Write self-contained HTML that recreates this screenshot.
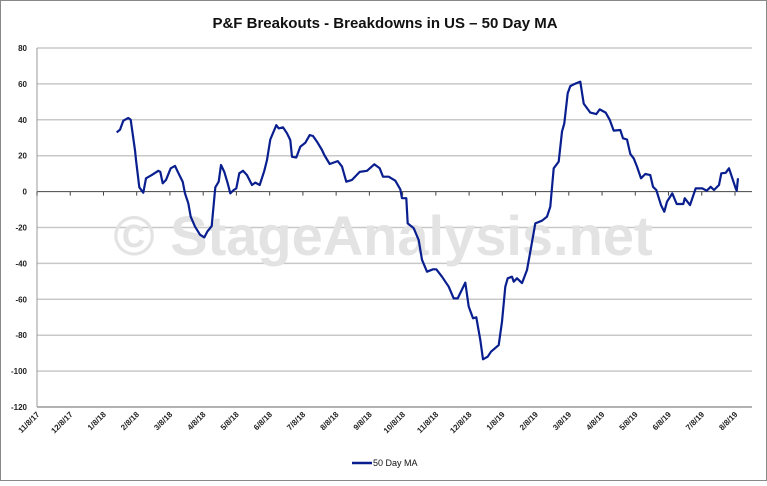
<!DOCTYPE html>
<html><head><meta charset="utf-8"><style>
body{margin:0;background:#fff;}
svg text{font-family:"Liberation Sans",sans-serif;}
</style></head><body>
<svg width="767" height="481" viewBox="0 0 767 481">
<rect x="0.5" y="0.5" width="766" height="480" fill="#fff" stroke="#888"/>
<text x="385" y="28" text-anchor="middle" font-size="15" font-weight="bold" fill="#111">P&amp;F Breakouts - Breakdowns in US – 50 Day MA</text>
<g id="grid"></g>
<text x="383" y="255" text-anchor="middle" font-size="56" font-weight="bold" fill="#e3e3e3">© StageAnalysis.net</text>
<g id="axes"></g>
<g id="plot"></g>
<g>
<line x1="352" y1="463" x2="372" y2="463" stroke="#0a1f8f" stroke-width="2.5"/>
<text x="373" y="466" font-size="9" fill="#111">50 Day MA</text>
</g>
</svg>
<script>
const yTicks=[80,60,40,20,0,-20,-40,-60,-80,-100,-120];
const xLabels=["11/8/17","12/8/17","1/8/18","2/8/18","3/8/18","4/8/18","5/8/18","6/8/18","7/8/18","8/8/18","9/8/18","10/8/18","11/8/18","12/8/18","1/8/19","2/8/19","3/8/19","4/8/19","5/8/19","6/8/19","7/8/19","8/8/19"];
// x positions in months since 11/8/17
const monthPos=[2.39,2.49,2.59,2.74,2.81,2.94,2.97,3.07,3.19,3.27,3.44,3.64,3.70,3.77,3.87,4.01,4.14,4.21,4.37,4.44,4.54,4.61,4.74,4.89,5.02,5.11,5.24,5.35,5.45,5.52,5.62,5.72,5.8,5.9,5.98,6.07,6.18,6.3,6.45,6.55,6.68,6.82,6.9,7.0,7.18,7.25,7.38,7.5,7.6,7.65,7.78,7.9,8.05,8.18,8.28,8.4,8.55,8.62,8.78,9.02,9.15,9.28,9.45,9.68,9.9,10.12,10.28,10.38,10.55,10.75,10.9,10.95,11.08,11.12,11.3,11.45,11.55,11.7,11.88,11.98,12.15,12.35,12.5,12.62,12.85,12.95,13.08,13.18,13.3,13.38,13.52,13.62,13.85,13.95,14.05,14.12,14.25,14.3,14.4,14.55,14.7,14.8,14.95,15.15,15.3,15.4,15.5,15.65,15.75,15.82,15.92,16.0,16.13,16.3,16.4,16.6,16.78,16.88,17.06,17.18,17.3,17.5,17.58,17.7,17.8,17.9,18.0,18.12,18.25,18.4,18.48,18.58,18.72,18.82,18.9,19.06,19.19,19.39,19.43,19.59,19.76,19.96,20.09,20.21,20.31,20.46,20.53,20.66,20.76,20.96,20.99,21.03];
const maValues=[33,34.5,39.5,41,40,23,17.6,2.4,-0.6,7.4,9.2,11.6,11,4.6,6.5,13,14.3,11.6,5.5,-1,-6.5,-14,-19.5,-24,-25.5,-22.3,-19.2,2.4,5.5,14.8,11,4.6,-1,0.9,1.8,10.2,11.6,9.2,3.7,5,3.7,11.6,17.6,29,37,35.2,35.8,32.5,28.7,19.4,19,25,27.2,31.5,31,27.8,23.2,20.4,15.4,17,13.9,5.5,6.5,11,11.6,15.2,13,8.3,8.3,6.1,1.3,-3.7,-3.7,-17.7,-20.4,-27,-38,-44.6,-43.3,-43.3,-47.4,-53,-59.5,-59.5,-50.7,-64,-70.6,-70,-82.7,-93.4,-92,-89.2,-85.5,-72.5,-53,-48.3,-47.4,-50.2,-48.3,-51,-43.7,-33.5,-17.7,-16.2,-14,-8.4,13,16.7,33.4,38,54.8,58.8,60,61.2,49,44,43.2,45.8,44,40,34,34.3,29.7,29,21,18.5,13.9,7.4,9.8,9.2,2.7,0.9,-7.5,-11.2,-5.6,-1,-6.9,-6.9,-3.7,-7.5,1.8,1.8,0.5,2.7,0.9,3.7,10.2,10.5,13,1.8,0.5,7.4];
const NS="http://www.w3.org/2000/svg";
const X0=37,X1=752,Y0=48,Y1=407;
const xs=m=>X0+m*(X1-X0)/21.45;
const ys=v=>Y0+(80-v)*(Y1-Y0)/200;
function mk(t,a,p){const e=document.createElementNS(NS,t);for(const k in a)e.setAttribute(k,a[k]);p.appendChild(e);return e;}
const grid=document.getElementById('grid'),axes=document.getElementById('axes'),plot=document.getElementById('plot');
yTicks.forEach(v=>{
  const l=mk('line',{x1:X0,x2:X1,y1:ys(v),y2:ys(v),stroke:v===0?'#444':(v===-120?'#999':'#c8c8c8'),'stroke-width':v===0?1:1.5},v===0?axes:grid);
  
  
  const t=mk('text',{x:27,y:ys(v)+3,'text-anchor':'end','font-size':8,'font-weight':'bold',fill:'#222'},axes);
  t.textContent=v;
  
  
});
const ya=mk('line',{x1:X0,x2:X0,y1:Y0,y2:Y1,stroke:'#999'},axes);


xLabels.forEach((s,i)=>{
  const x=X0+i*(735-X0)/21;
  const tk=mk('line',{x1:x,x2:x,y1:ys(0),y2:ys(0)+4,stroke:'#444'},axes);
  
  
  const t=mk('text',{x:x+3,y:Y1+8,'text-anchor':'end','font-size':8,'font-weight':'bold',fill:'#222',transform:`rotate(-45 ${x+3} ${Y1+8})`},axes);
  t.textContent=s;
  
  
});
const pts=monthPos.map((m,i)=>xs(m).toFixed(1)+','+ys(maValues[i]).toFixed(1)).join(' ');
const pl=mk('polyline',{points:pts,fill:'none',stroke:'#0a1f8f','stroke-width':2.2,'stroke-linejoin':'round'},plot);


</script>
</body></html>
